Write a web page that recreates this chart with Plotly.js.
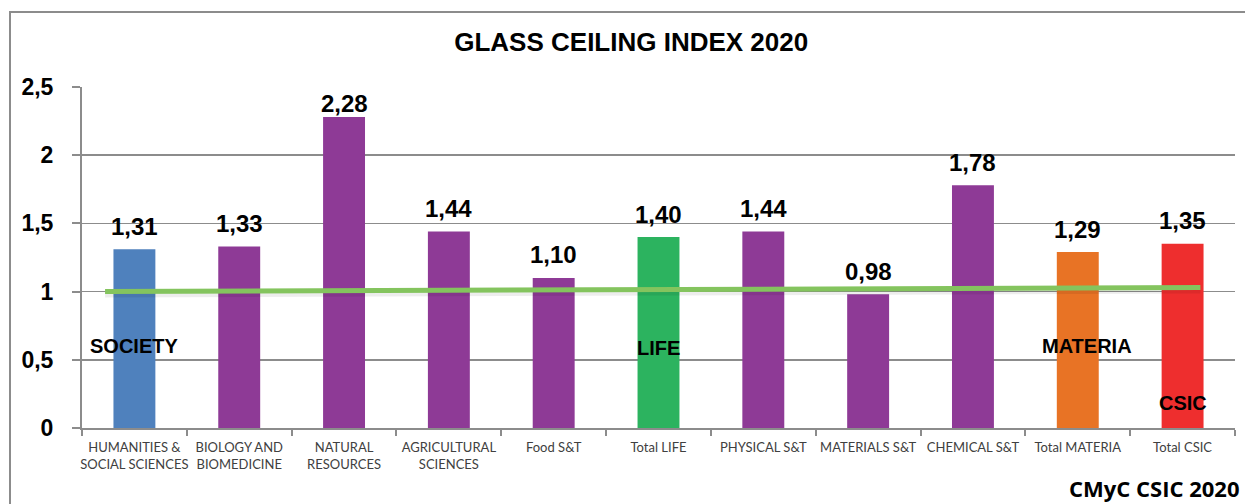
<!DOCTYPE html>
<html>
<head>
<meta charset="utf-8">
<script src="https://cdn.plot.ly/plotly-3.0.1.min.js"></script>
<style>
  html, body { margin: 0; padding: 0; background: #ffffff; }
  #frame { position: absolute; left: 9px; top: 11px; width: 1400px; height: 600px;
           border-top: 2px solid #8c8c8c; border-left: 2px solid #8c8c8c; box-sizing: border-box; }
  #chart { position: absolute; left: 0; top: 0; width: 1245px; height: 504px; }
</style>
</head>
<body>
<div id="frame"></div>
<div id="chart"></div>
<script>
// ---- data ----
const categories = [
  "HUMANITIES &<br>SOCIAL SCIENCES", "BIOLOGY AND<br>BIOMEDICINE", "NATURAL<br>RESOURCES",
  "AGRICULTURAL<br>SCIENCES", "Food S&T", "Total LIFE", "PHYSICAL S&T",
  "MATERIALS S&T", "CHEMICAL S&T", "Total MATERIA", "Total CSIC"
];
const values = [1.31, 1.33, 2.28, 1.44, 1.10, 1.40, 1.44, 0.98, 1.78, 1.29, 1.35];
const barColors = ["#4F81BD", "#8E3A96", "#8E3A96", "#8E3A96", "#8E3A96", "#2CB35F",
                   "#8E3A96", "#8E3A96", "#8E3A96", "#E87325", "#EE2E2E"];
const yTicks = [0, 0.5, 1, 1.5, 2, 2.5];
// reference line (glass ceiling = 1), drawn on an overlaid numeric axis (category index units)
const refLineX = [-0.28, 10.17];
const refLineY = [1.00, 1.03];
// group labels
const groupLabels = ["SOCIETY", "LIFE", "MATERIA", "CSIC"];
const groupLabelCat = [0, 5, 9, 10];
const groupLabelY = [0.60, 0.59, 0.60, 0.18];

const traces = [
  {
    type: "bar",
    x: categories,
    y: values,
    marker: { color: barColors },
    hoverinfo: "skip"
  },
  {
    type: "scatter", mode: "lines",
    x: refLineX, y: refLineY.map(v => v - 0.022),
    xaxis: "x2", yaxis: "y",
    line: { color: "rgba(0,0,0,0.07)", width: 6 },
    hoverinfo: "skip"
  },
  {
    type: "scatter", mode: "lines",
    x: refLineX, y: refLineY,
    xaxis: "x2", yaxis: "y",
    line: { color: "#84C45E", width: 5 },
    hoverinfo: "skip"
  }
];

const fmt = v => v.toFixed(2).replace(".", ",");
const annotations = values.map((v, i) => ({
  text: fmt(v), x: categories[i], y: v, xref: "x", yref: "y",
  showarrow: false, yanchor: "middle",
  yshift: v > 2.2 ? 14 : 23,
  font: { family: "Liberation Sans, Arial, sans-serif", size: 24, color: "#000000", weight: 700 }
}));
groupLabels.forEach((t, i) => annotations.push({
  text: t, x: groupLabelCat[i] + (t === "MATERIA" ? 0.09 : 0), y: groupLabelY[i],
  xref: "x2", yref: "y", showarrow: false,
  font: { family: "Liberation Sans, Arial, sans-serif", size: 20, color: "#000000", weight: 700 }
}));
annotations.push({
  text: "CMyC CSIC 2020", xref: "paper", yref: "paper", x: 1.005, y: -0.175,
  xanchor: "right", yanchor: "middle", showarrow: false,
  font: { family: "Open Sans, sans-serif", size: 22, color: "#000000", weight: 700 }
});

const layout = {
  width: 1245, height: 504,
  margin: { l: 82, r: 10, t: 87, b: 76 },
  paper_bgcolor: "rgba(0,0,0,0)", plot_bgcolor: "rgba(0,0,0,0)",
  separators: ",.",
  showlegend: false,
  bargap: 0.6,
  title: {
    text: "GLASS CEILING INDEX 2020",
    x: 0.507, xref: "container", xanchor: "center",
    y: 0.917, yref: "container", yanchor: "middle",
    font: { family: "Liberation Sans, Arial, sans-serif", size: 26, color: "#000000", weight: 700 }
  },
  xaxis: {
    type: "category",
    tickson: "boundaries", ticks: "outside", ticklen: 6, tickcolor: "#8c8c8c", tickwidth: 2,
    ticklabelstandoff: 6,
    showline: true, linecolor: "#8c8c8c", linewidth: 2,
    showgrid: false, tickangle: 0,
    tickfont: { family: "Lato, sans-serif", size: 13, color: "#404040" }
  },
  xaxis2: {
    overlaying: "x", range: [-0.5, 10.5], visible: false, fixedrange: true
  },
  yaxis: {
    range: [0, 2.5], tickvals: yTicks,
    ticks: "outside", ticklen: 8, tickcolor: "#8c8c8c", tickwidth: 2,
    ticklabelstandoff: 14,
    showline: true, linecolor: "#8c8c8c", linewidth: 2,
    showgrid: true, gridcolor: "#8c8c8c", gridwidth: 1.5,
    zeroline: false,
    tickfont: { family: "Liberation Sans, Arial, sans-serif", size: 23, color: "#000000", weight: 700 }
  },
  annotations: annotations
};

Plotly.newPlot("chart", traces, layout, { staticPlot: true, displayModeBar: false });
</script>
</body>
</html>
